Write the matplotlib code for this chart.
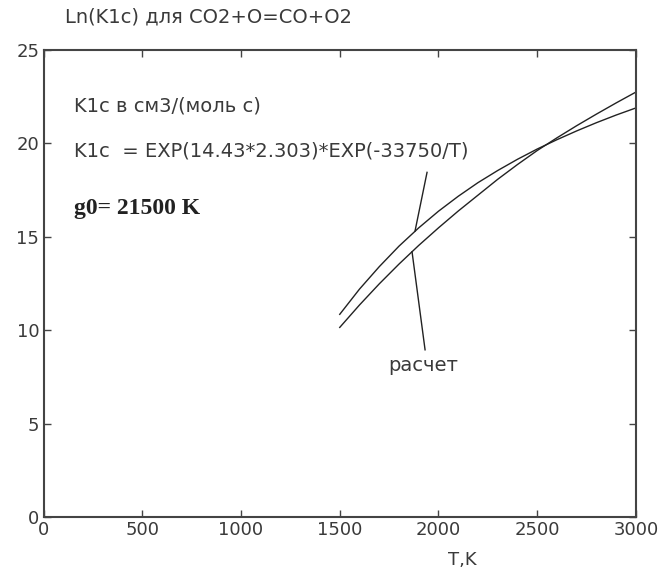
import matplotlib
matplotlib.use('Agg')
import matplotlib.pyplot as plt

# values
T = [1500, 1600, 1700, 1800, 1900, 2000, 2100, 2200,
     2300, 2400, 2500, 2600, 2700, 2800, 2900, 3000]
# K1c = EXP(14.43*2.303)*EXP(-33750/T)
ln_k_formula = [10.85, 12.2, 13.4, 14.5, 15.48, 16.37, 17.17, 17.9,
                18.55, 19.15, 19.7, 20.2, 20.67, 21.11, 21.52, 21.9]
# расчет
ln_k_calc = [10.15, 11.35, 12.48, 13.54, 14.54, 15.48, 16.38, 17.23,
             18.08, 18.87, 19.62, 20.3, 20.95, 21.57, 22.17, 22.75]

x_ticks = [0, 500, 1000, 1500, 2000, 2500, 3000]
y_ticks = [0, 5, 10, 15, 20, 25]

plt.rcParams['font.family'] = ['DejaVu Sans']
txt_color = '#3a3a3a'

fig = plt.figure(figsize=(6.63, 5.72), dpi=100)
ax = fig.add_axes([43.5 / 663, 1 - 517 / 572, (636 - 43.5) / 663, (517 - 50) / 572])

ax.plot(T, ln_k_formula, color='#222222', lw=1.0)
ax.plot(T, ln_k_calc, color='#222222', lw=1.0)

ax.set_xlim(0, 3000)
ax.set_ylim(0, 25)
ax.set_xticks(x_ticks)
ax.set_yticks(y_ticks)
ax.tick_params(direction='in', length=5, width=1, top=True, right=True,
               labelsize=13, labelcolor=txt_color, color='#444444', pad=3)
for s in ax.spines.values():
    s.set_linewidth(1.5)
    s.set_color('#444444')

ax.text(2120, -2.3, 'T,K', ha='center', va='center', fontsize=13, color=txt_color)
fig.text(65 / 663, 1 - 17 / 572, 'Ln(K1c) для CO2+O=CO+O2', ha='left', va='center',
         fontsize=14, color=txt_color)

ax.text(155, 22.0, 'K1c в см3/(моль с)', fontsize=14, color=txt_color, va='center')
ax.text(155, 19.6, 'K1c  = EXP(14.43*2.303)*EXP(-33750/T)', fontsize=14, color=txt_color, va='center')
ax.text(155, 16.5, 'g0= 21500 K', fontsize=17, fontweight='bold', color='#222222',
        family='Liberation Serif', va='center')

# pointer lines
ax.plot([1942, 1881], [18.45, 15.3], color='#222222', lw=1.0)
ax.plot([1932, 1866], [8.95, 14.2], color='#222222', lw=1.0)
ax.text(1925, 8.1, 'расчет', ha='center', va='center', fontsize=14, color=txt_color)

fig.savefig('out.png', dpi=100)
